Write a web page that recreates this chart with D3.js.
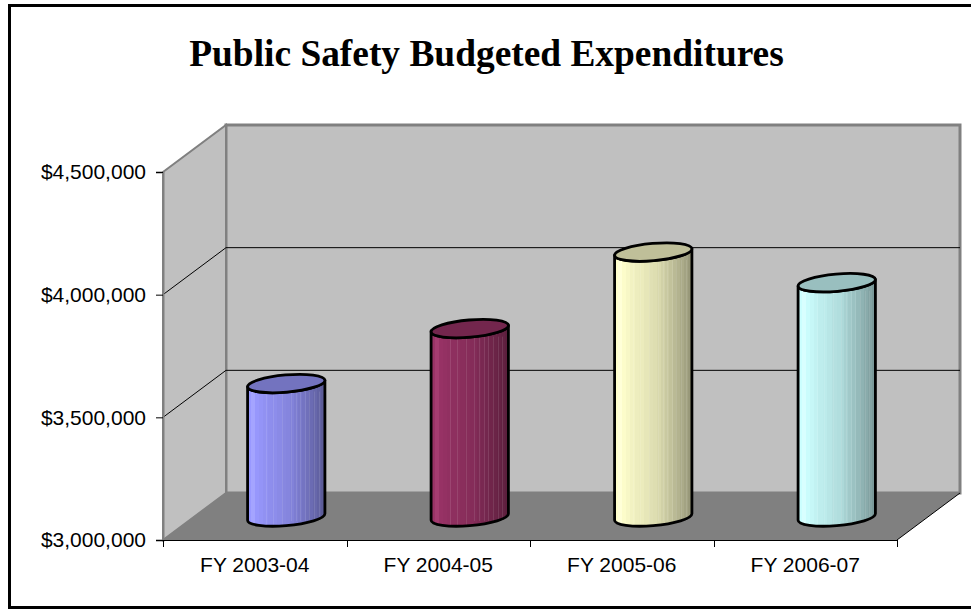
<!DOCTYPE html>
<html><head><meta charset="utf-8">
<script src="https://cdnjs.cloudflare.com/ajax/libs/d3/7.8.5/d3.min.js"></script>
<style>html,body{margin:0;padding:0;background:#fff}svg{display:block}</style>
</head><body><svg id="chart" width="971" height="610"></svg>
<script>
const categories = ["FY 2003-04","FY 2004-05","FY 2005-06","FY 2006-07"];
const budgeted = [3544000,3768000,4080000,3955000];
const barColors = ["#9999ff","#993366","#ffffcc","#ccffff"];
const tickValues = [3000000,3500000,4000000,4500000];
const titleText = "Public Safety Budgeted Expenditures";

const svg = d3.select("#chart");
const depth = {x:63, y:-47};
const plot = {left:163,right:897,top:172,bottom:540};

// outer frame runs past the right edge of the page
svg.append("rect").attr("x",9.5).attr("y",5.5).attr("width",975).attr("height",602)
  .attr("fill","#fff").attr("stroke","#000").attr("stroke-width",3);

const y = d3.scaleLinear().domain([3000000,4500000]).range([plot.bottom,plot.top]);
const x = d3.scaleBand().domain(categories).range([plot.left,plot.right]);
const pts = a => a.map(p=>p.join(",")).join(" ");

// back wall, side wall and floor
svg.append("polygon").attr("fill","#c0c0c0").attr("stroke","#808080").attr("stroke-width",3)
  .attr("points",pts([[plot.left+depth.x,plot.top+depth.y],[plot.right+depth.x,plot.top+depth.y],[plot.right+depth.x,plot.bottom+depth.y],[plot.left+depth.x,plot.bottom+depth.y]]));
svg.append("polygon").attr("fill","#c0c0c0").attr("stroke","#808080").attr("stroke-width",2)
  .attr("points",pts([[plot.left,plot.top],[plot.left+depth.x,plot.top+depth.y],[plot.left+depth.x,plot.bottom+depth.y],[plot.left,plot.bottom]]));
svg.append("polygon").attr("fill","#808080")
  .attr("points",pts([[plot.left,plot.bottom],[plot.left+depth.x,plot.bottom+depth.y],[plot.right+depth.x,plot.bottom+depth.y],[plot.right,plot.bottom]]));

// gridlines wrap from the side wall onto the back wall
tickValues.filter(v=>v>3000000 && v<4500000).forEach(v=>{
  svg.append("polyline").attr("fill","none").attr("stroke","#000").attr("stroke-width",1)
    .attr("points",pts([[plot.left,y(v)],[plot.left+depth.x,y(v)+depth.y],[plot.right+depth.x,y(v)+depth.y]]));
});

// floor edge on the right
svg.append("line").attr("x1",plot.right).attr("y1",plot.bottom).attr("x2",plot.right+depth.x).attr("y2",plot.bottom+depth.y).attr("stroke","#000").attr("stroke-width",1);

// axes
const yAxis = d3.axisLeft(y).tickValues(tickValues).tickFormat(d3.format("$,.0f")).tickSize(7).tickPadding(10);
const xAxis = d3.axisBottom(x).tickSize(7).tickSizeOuter(0).tickPadding(8);
const gy = svg.append("g").attr("transform",`translate(${plot.left},0)`).call(yAxis);
const gx = svg.append("g").attr("transform",`translate(0,${plot.bottom})`).call(xAxis);
gx.selectAll(".tick line").remove();
gx.selectAll(".domain").remove();
svg.append("line").attr("x1",plot.left).attr("x2",plot.right).attr("y1",plot.bottom+.5).attr("y2",plot.bottom+.5).attr("stroke","#000");
gx.selectAll(".tick text").attr("y",32).attr("dy",0);
[...x.domain().map(c=>x(c)),plot.right].forEach(px=>{
  svg.append("line").attr("x1",Math.round(px)+.5).attr("x2",Math.round(px)+.5).attr("y1",plot.bottom).attr("y2",plot.bottom+7).attr("stroke","#000");
});
gy.select(".domain").attr("stroke","#808080").attr("stroke-width",2);
gy.selectAll(".tick line").attr("stroke","#000");
svg.selectAll("g text").attr("font-family","'Liberation Sans',Arial,sans-serif").attr("font-size",21).attr("fill","#000");

// banded shading across each cylinder, light at left and darkening to the right
const defs = svg.append("defs");
const bands = [0,.05,.1,.15,.2,.26,.32,.38,.44,.5,.55,.6,.65,.7,.75,.8,.85,.9,.95,1];
const shade = [1,1.02,.99,.97,.95,.93,.92,.9,.88,.87,.85,.82,.79,.76,.73,.7,.67,.64,.6];
barColors.forEach((c,i)=>{
  const g = defs.append("linearGradient").attr("id","cyl"+i);
  const col = d3.rgb(c);
  shade.forEach((f,k)=>{
    const s = d3.rgb(Math.min(255,col.r*f+(f>1?8:0)),Math.min(255,col.g*f+(f>1?8:0)),Math.min(255,col.b*f+(f>1?8:0)));
    g.append("stop").attr("offset",bands[k]).attr("stop-color",s);
    g.append("stop").attr("offset",bands[k+1]).attr("stop-color",s);
  });
});

// point on a tilted ellipse where its tangent is vertical
const rx = 38.8, ry = 8.6, tilt = -5;
const th = tilt*Math.PI/180;
const tt = Math.atan(-(ry/rx)*Math.tan(th));
const tanX = rx*Math.cos(tt)*Math.cos(th)-ry*Math.sin(tt)*Math.sin(th);
const tanY = rx*Math.cos(tt)*Math.sin(th)+ry*Math.sin(tt)*Math.cos(th);

// light seams running down the facets of each cylinder
const seams = [.24,.33,.45,.56,.62,.68,.74,.8,.86,.92];
const cylOffset = {x:depth.x/2, y:-23};

const cyl = svg.selectAll("g.cyl").data(budgeted).join("g").attr("class","cyl");
cyl.each(function(v,i){
  const cx = x(categories[i]) + x.bandwidth()/2 + cylOffset.x;
  const yBase = y(3000000) + cylOffset.y;
  const yTop = y(v) + cylOffset.y;
  const g = d3.select(this);
  const arc = `A${rx},${ry} ${tilt} 0`;
  const body = `M${cx-tanX},${yTop-tanY}L${cx-tanX},${yBase-tanY}${arc} 0 ${cx+tanX},${yBase+tanY}L${cx+tanX},${yTop+tanY}${arc} 1 ${cx-tanX},${yTop-tanY}Z`;
  g.append("path").attr("d",body).attr("fill",`url(#cyl${i})`);
  seams.forEach((s,k)=>{
    const sx = Math.round(cx-tanX+s*2*tanX)+.5;
    g.append("line").attr("x1",sx).attr("x2",sx).attr("y1",yTop+8).attr("y2",yBase+(k<3?8:4))
      .attr("stroke","#fff").attr("stroke-opacity",.1);
  });
  g.append("path").attr("d",body).attr("fill","none").attr("stroke","#000").attr("stroke-width",2.8).attr("stroke-linejoin","round");
  const base = d3.rgb(barColors[i]);
  g.append("ellipse").attr("rx",rx).attr("ry",ry)
    .attr("transform",`translate(${cx},${yTop}) rotate(${tilt})`)
    .attr("fill",d3.rgb(base.r*.75,base.g*.75,base.b*.75)).attr("stroke","#000").attr("stroke-width",2.8);
});

svg.append("text").attr("x",486.5).attr("y",66).attr("text-anchor","middle")
  .attr("font-family","'Liberation Serif','Times New Roman',serif").attr("font-weight","bold").attr("font-size",37.4).attr("fill","#000").text(titleText);
</script></body></html>
